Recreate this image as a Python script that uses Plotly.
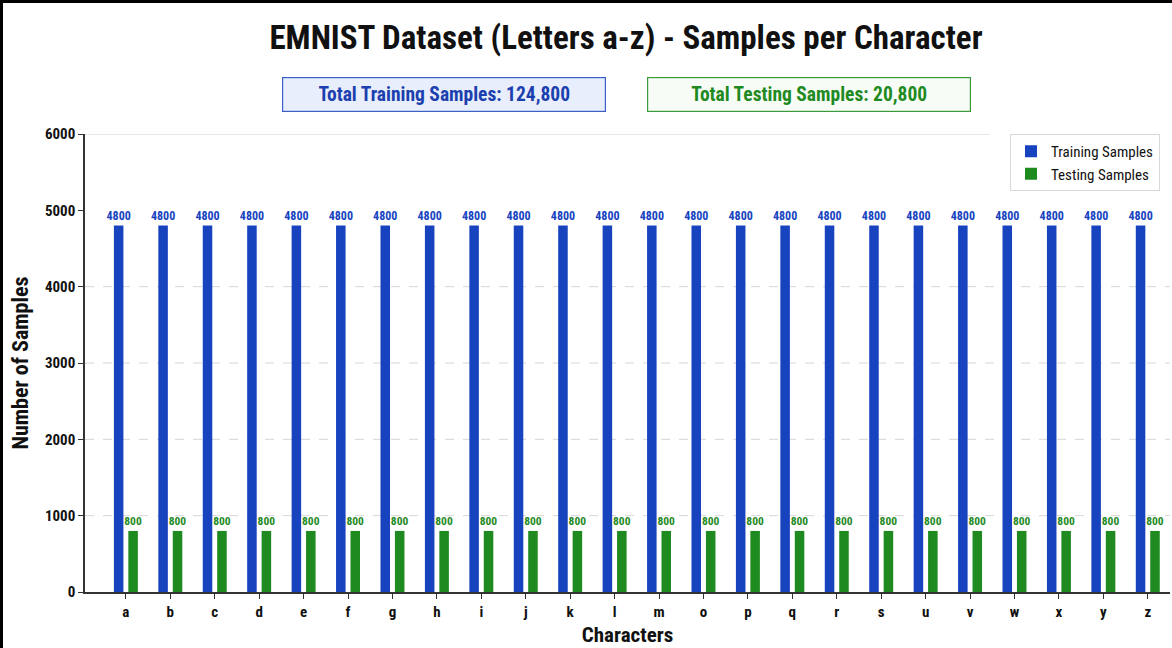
import plotly.graph_objects as go

characters = ["a", "b", "c", "d", "e", "f", "g", "h", "i", "j", "k", "l",
              "m", "o", "p", "q", "r", "s", "u", "v", "w", "x", "y", "z"]
training = [4800] * 24
testing = [800] * 24
total_training = "124,800"
total_testing = "20,800"
y_ticks = [0, 1000, 2000, 3000, 4000, 5000, 6000]
dashed_grid = [1000, 2000, 3000, 4000]

BLUE = "#1743BF"
GREEN = "#1F8A1F"
FONT = "Roboto Condensed, Liberation Sans Narrow, DejaVu Sans Condensed, Roboto, sans-serif"

W, H = 1172, 648
ML, MR, MT, MB = 85, 2, 134, 56
PW, PH = W - ML - MR, H - MT - MB

def px(x):
    return (x - ML) / PW

def py(y):
    return (H - MB - y) / PH

fig = go.Figure()
fig.add_trace(go.Bar(
    x=characters, y=training, name="Training Samples",
    marker=dict(color=BLUE, line=dict(width=0)),
    text=[str(v) for v in training], textposition="outside", constraintext="none",
    textfont=dict(color=BLUE, size=12, family=FONT, weight="bold"), cliponaxis=False,
))
fig.add_trace(go.Bar(
    x=characters, y=testing, name="Testing Samples",
    marker=dict(color=GREEN, line=dict(width=0)),
    text=[str(v) for v in testing], textposition="outside", constraintext="none",
    textfont=dict(color=GREEN, size=11.5, family=FONT, weight="bold"), cliponaxis=False,
))

fig.update_layout(
    width=W, height=H,
    margin=dict(l=ML, r=MR, t=MT, b=MB, autoexpand=False),
    paper_bgcolor="white", plot_bgcolor="white",
    barmode="group", bargap=0.35, bargroupgap=0.34,
    font=dict(family=FONT, color="#111111"),
    title=dict(text="<b>EMNIST Dataset (Letters a-z) - Samples per Character</b>",
               x=(272 + 980) / 2 / W, xanchor="center", y=1 - 37 / H, yanchor="middle",
               font=dict(size=33, family=FONT, color="#111111")),
    showlegend=True,
    legend=dict(x=px(1010), y=py(134), xanchor="left", yanchor="top",
                bgcolor="white", bordercolor="#d8d8d8", borderwidth=1,
                font=dict(size=15, family=FONT, color="#111111"),
                itemwidth=30, tracegroupgap=0),
    xaxis=dict(
        type="category", range=[-0.92, 23.5],
        showline=True, linecolor="#333333", linewidth=1.5,
        ticks="outside", ticklen=5, tickcolor="#333333",
        tickfont=dict(size=15, family=FONT, color="#111111", weight="bold"),
        title=dict(text="<b>Characters</b>", font=dict(size=21, family=FONT), standoff=8),
        showgrid=False,
    ),
    yaxis=dict(
        range=[0, 6000], tickvals=y_ticks,
        showline=True, linecolor="#333333", linewidth=1.5,
        ticks="outside", ticklen=5, tickcolor="#333333",
        tickfont=dict(size=15, family=FONT, color="#111111", weight="bold"),
        title=dict(text="<b>Number of Samples</b>", font=dict(size=22, family=FONT), standoff=10),
        showgrid=False, zeroline=False,
    ),
)

for g in dashed_grid:
    fig.add_shape(type="line", xref="paper", yref="y", x0=0, x1=1, y0=g, y1=g,
                  line=dict(color="#d6d6d6", width=1, dash="dash"), layer="below")
fig.add_shape(type="line", xref="paper", yref="y", x0=0, x1=px(990), y0=y_ticks[-1], y1=y_ticks[-1],
              line=dict(color="#d0d0d0", width=1.2), layer="below")

fig.add_annotation(
    xref="paper", yref="paper", x=px(444), y=py(95), xanchor="center", yanchor="middle",
    text="<b>Total Training Samples: " + total_training + "</b>", showarrow=False,
    font=dict(size=19.5, color="#1B3FAE", family=FONT),
    bgcolor="#E8EEFB", bordercolor="#3D5FC8", borderwidth=1.2, borderpad=3,
    width=316, height=27,
)
fig.add_annotation(
    xref="paper", yref="paper", x=px(809), y=py(95), xanchor="center", yanchor="middle",
    text="<b>Total Testing Samples: " + total_testing + "</b>", showarrow=False,
    font=dict(size=19.5, color="#1F8A1F", family=FONT),
    bgcolor="#F7FCF7", bordercolor="#3C9A3C", borderwidth=1.2, borderpad=3,
    width=316, height=27,
)

# outer frame
fig.add_shape(type="rect", xref="paper", yref="paper",
              x0=px(1.5), x1=px(W + 5), y0=py(H + 5), y1=py(1.5),
              line=dict(color="black", width=3), fillcolor="rgba(0,0,0,0)", layer="above")

fig.write_html("out.html", config={"displayModeBar": False},
               post_script="document.body.style.margin='0';document.body.style.padding='0';")
